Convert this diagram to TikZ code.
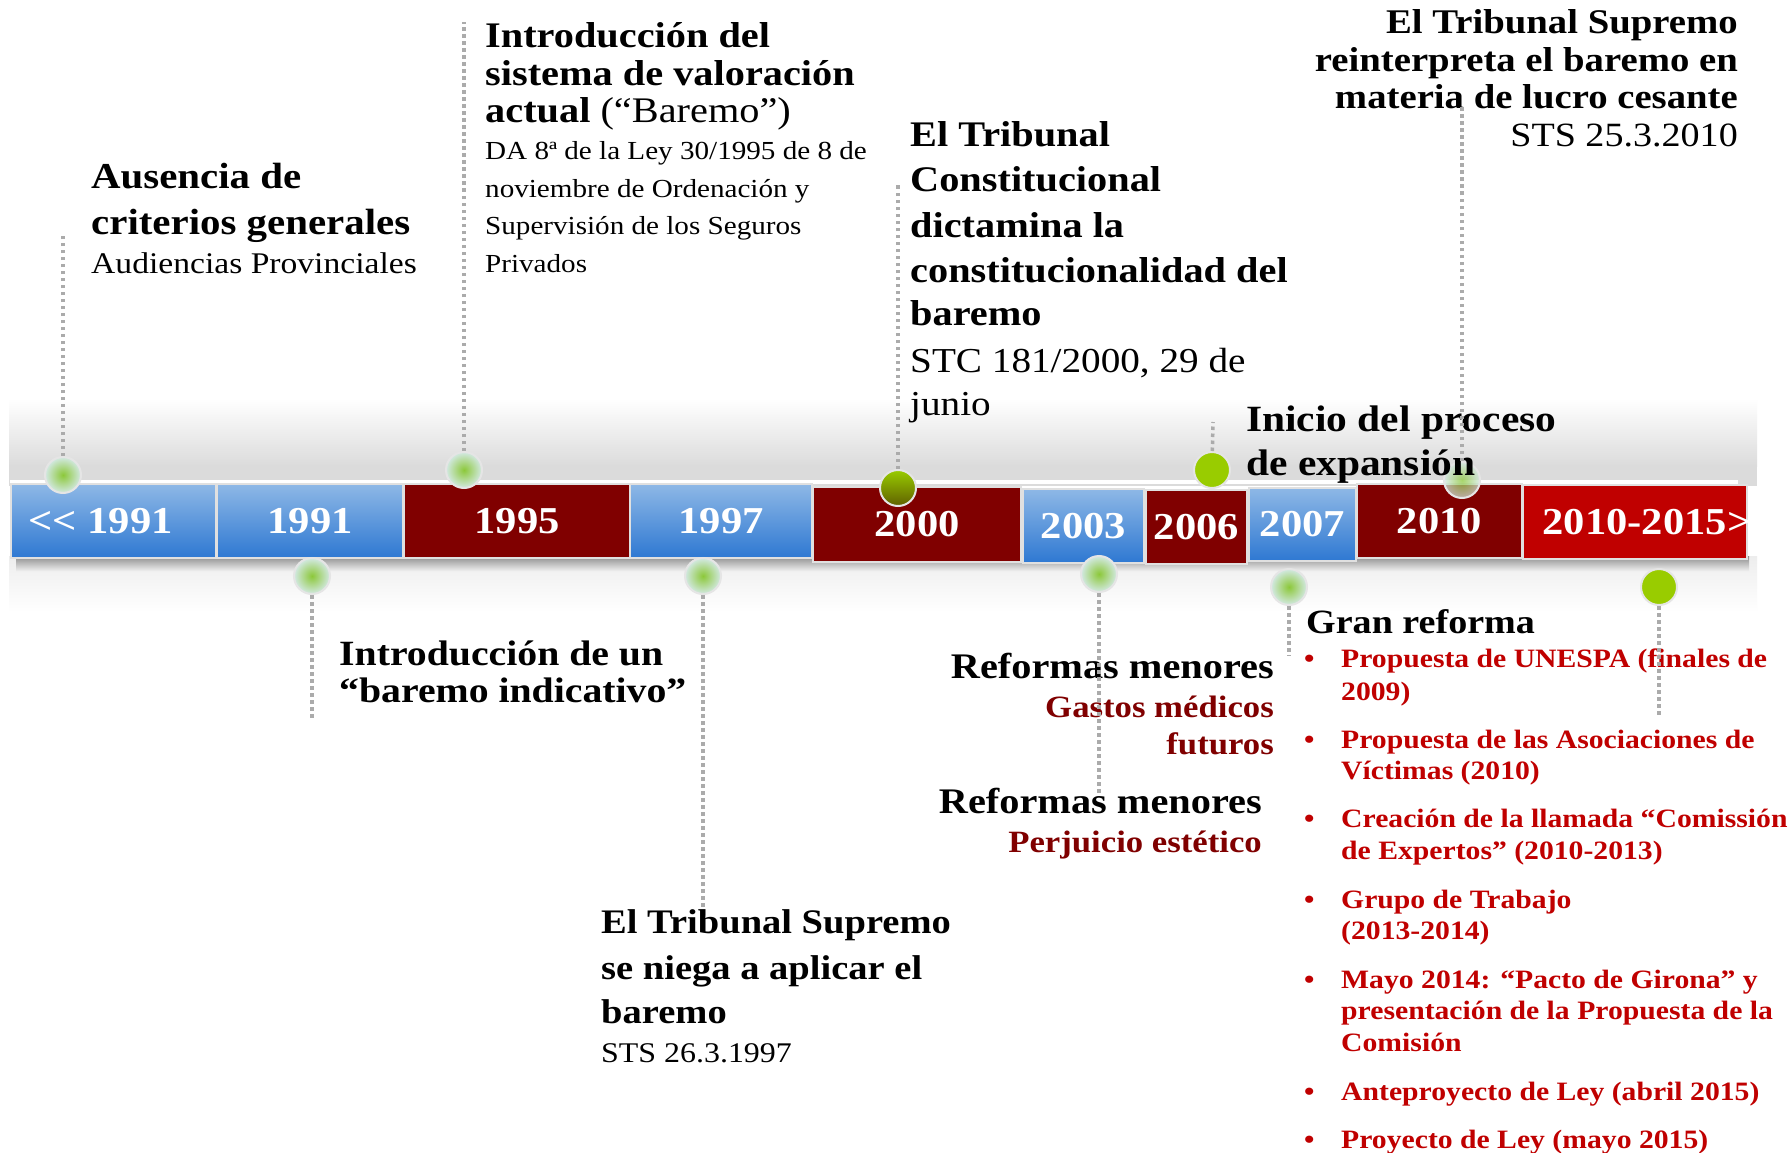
\documentclass[tikz,border=0pt]{standalone}
\usepackage{fontspec}
\setmainfont{Liberation Serif}[FakeStretch=1.12]
\definecolor{dred}{HTML}{800000}
\definecolor{lred}{HTML}{C00000}
\definecolor{btop}{HTML}{8EB8E6}
\definecolor{bbot}{HTML}{2E78D2}
\definecolor{dotline}{HTML}{ABABAB}
\definecolor{halo}{HTML}{D3E9E3}
\definecolor{lgreen}{HTML}{8CC83A}
\definecolor{sgreen}{HTML}{99CC00}
\newcommand\fz[1]{\fontsize{#1}{#1}\selectfont}
\tikzset{
  yearbox/.style={draw=white!88!black, line width=1.5pt, inner sep=0pt, text=white, font=\fz{38}\bfseries},
  bluebox/.style={yearbox, top color=btop, bottom color=bbot},
  redbox/.style={yearbox, fill=dred},
  brightbox/.style={yearbox, fill=lred},
  halodot/.style={circle, minimum size=36pt, inner sep=0pt, draw=white!90!black, line width=2pt, inner color=lgreen, outer color=halo},
  soliddot/.style={circle, minimum size=36pt, inner sep=0pt, draw=white!90!black, line width=2pt, fill=sgreen},
  link/.style={draw=dotline, line width=3.5pt, dash pattern=on 3.5pt off 3.5pt},
  bw/.style={anchor=base west, inner sep=0pt, font=\fz{#1}\bfseries},
  rw/.style={anchor=base west, inner sep=0pt, font=\fz{#1}},
  be/.style={anchor=base east, inner sep=0pt, font=\fz{#1}\bfseries},
  re/.style={anchor=base east, inner sep=0pt, font=\fz{#1}},
  item/.style={anchor=base west, inner sep=0pt, font=\fz{26.5}\bfseries, text=lred}
}
\begin{document}
\begin{tikzpicture}[x=1pt,y=-1pt]
\useasboundingbox (0,0) rectangle (1789,1153);
\fill[white] (0,0) rectangle (1789,1153);
% background band
\shade[top color=white, bottom color=black!14] (9,399) rectangle (1757,466);
\fill[black!14] (9,465) rectangle (1757,486);
\shade[top color=black!7, bottom color=white] (9,556) rectangle (1757,612);
\shade[top color=black!45, bottom color=black!6] (16,556) rectangle (1749,571);
\fill[white] (10,480) rectangle (1738,484);
% year boxes
\node[bluebox, minimum width=205pt, minimum height=74pt] (b1) at (113.5,521) {\makebox[0pt]{{<}{<} 1991\hspace*{26pt}}};
\node[bluebox, minimum width=186pt, minimum height=74pt] (b2) at (310,521) {1991};
\node[redbox, minimum width=226pt, minimum height=74pt] (b3) at (517,521) {1995};
\node[bluebox, minimum width=182pt, minimum height=74pt] (b4) at (721,521) {1997};
\node[redbox, minimum width=208pt, minimum height=75pt] (b5) at (917,524.5) {2000};
\node[bluebox, minimum width=121pt, minimum height=74pt] (b6) at (1083.5,526) {2003};
\node[redbox, minimum width=101pt, minimum height=74pt] (b7) at (1196.5,527) {2006};
\node[bluebox, minimum width=107pt, minimum height=73pt] (b8) at (1302.5,524.5) {2007};
\node[redbox, minimum width=165pt, minimum height=74pt] (b9) at (1439.5,521) {2010};
\node[brightbox, minimum width=224pt, minimum height=74pt] (b10) at (1635,522) {\makebox[0pt]{\hspace*{24pt}2010-2015{>}}};
% dots
\node[halodot] (d1) at (63,475) {};
\node[halodot] (d2) at (464,470) {};
\node[soliddot, top color=sgreen, bottom color=olive!75!black] (d3) at (898,488) {};
\node[halodot, fill opacity=0.75] (d4) at (1462,480) {};
\node[soliddot] (d5) at (1212,470) {};
\node[halodot] (d6) at (312,576) {};
\node[halodot] (d7) at (703,576) {};
\node[halodot] (d8) at (1099,574) {};
\node[halodot] (d9) at (1289,587) {};
\node[soliddot] (d10) at (1659,587) {};
% link ends
\coordinate (e1) at (63,236);
\coordinate (e2) at (464,22);
\coordinate (e3) at (898,184);
\coordinate (e4) at (1462,104);
\coordinate (e5) at (1213,422);
\coordinate (e6) at (312,721);
\coordinate (e7) at (703,907);
\coordinate (e8) at (1099,795);
\coordinate (e9) at (1289,656);
\coordinate (e10) at (1659,716);
% texts
\node[bw=36.5] (t1a) at (91,189) {Ausencia de};
\node[bw=36.5] (t1b) at (91,234) {criterios generales};
\node[rw=30] (t1c) at (91,273) {Audiencias Provinciales};

\node[bw=36] (t2a) at (485,48) {Introducción del};
\node[bw=36] (t2b) at (485,86) {sistema de valoración};
\node[bw=36] (t2c) at (485,123) {actual {\mdseries(“Baremo”)}};
\node[rw=26] (t2d) at (485,160) {DA 8ª de la Ley 30/1995 de 8 de};
\node[rw=26] (t2e) at (485,197) {noviembre de Ordenación y};
\node[rw=26] (t2f) at (485,234) {Supervisión de los Seguros};
\node[rw=26] (t2g) at (485,272) {Privados};

\node[bw=36] (t3a) at (910,147) {El Tribunal};
\node[bw=36] (t3b) at (910,192) {Constitucional};
\node[bw=36] (t3c) at (910,237) {dictamina la};
\node[bw=36] (t3d) at (910,282) {constitucionalidad del};
\node[bw=36] (t3e) at (910,325) {baremo};
\node[rw=35] (t3f) at (910,372) {STC 181/2000, 29 de};
\node[rw=35] (t3g) at (910,415) {junio};

\node[be=34.6] (t4a) at (1738,34) {El Tribunal Supremo};
\node[be=34.6] (t4b) at (1738,72) {reinterpreta el baremo en};
\node[be=34.6] (t4c) at (1738,109) {materia de lucro cesante};
\node[re=34] (t4d) at (1738,147) {STS 25.3.2010};

\node[bw=37] (t5a) at (1246,431) {Inicio del proceso};
\node[bw=37] (t5b) at (1246,475) {de expansión};

\node[bw=35.5] (t6a) at (339,665) {Introducción de un};
\node[bw=35.5] (t6b) at (339,702) {“baremo indicativo”};

\node[bw=34.4] (t7a) at (601,933) {El Tribunal Supremo};
\node[bw=34.4] (t7b) at (601,979) {se niega a aplicar el};
\node[bw=34.4] (t7c) at (601,1023) {baremo};
\node[rw=28.5] (t7d) at (601,1062) {STS 26.3.1997};

\node[be=36] (t8a) at (1274,678) {Reformas menores};
\node[be=31, text=dred] (t8b) at (1274,717) {Gastos médicos};
\node[be=31, text=dred] (t8c) at (1274,754) {futuros};
\node[be=36] (t8d) at (1262,813) {Reformas menores};
\node[be=31, text=dred] (t8e) at (1262,852) {Perjuicio estético};

\node[bw=34] (t9) at (1306,633) {Gran reforma};
\foreach \y [count=\i] in {667,748,827,908,988,1100,1148}
  \node[item] (bul\i) at (1304,\y) {•};
\node[item] (l1a) at (1341,667) {Propuesta de UNESPA (finales de};
\node[item] (l1b) at (1341,700) {2009)};
\node[item] (l2a) at (1341,748) {Propuesta de las Asociaciones de};
\node[item] (l2b) at (1341,779) {Víctimas (2010)};
\node[item] (l3a) at (1341,827) {Creación de la llamada “Comissión};
\node[item] (l3b) at (1341,859) {de Expertos” (2010-2013)};
\node[item] (l4a) at (1341,908) {Grupo de Trabajo};
\node[item] (l4b) at (1341,939) {(2013-2014)};
\node[item] (l5a) at (1341,988) {Mayo 2014: “Pacto de Girona” y};
\node[item] (l5b) at (1341,1019) {presentación de la Propuesta de la};
\node[item] (l5c) at (1341,1051) {Comisión};
\node[item] (l6) at (1341,1100) {Anteproyecto de Ley (abril 2015)};
\node[item] (l7) at (1341,1148) {Proyecto de Ley (mayo 2015)};
% connectors
\foreach \i in {1,...,10} \draw[link] (d\i) -- (e\i);
\end{tikzpicture}
\end{document}
